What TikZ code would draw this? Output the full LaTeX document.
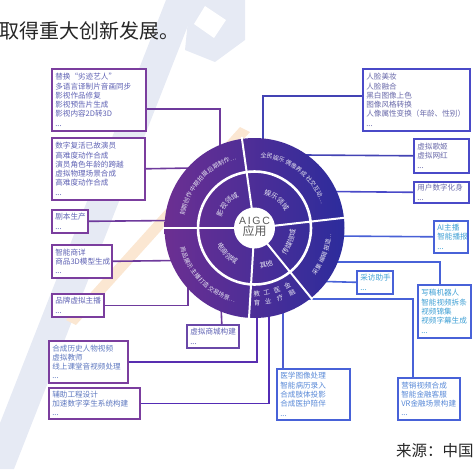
\documentclass[tikz,border=0pt]{standalone}
\usepackage{fontspec}
\setmainfont{Noto Sans CJK SC}
\newfontfamily\latinsans{Liberation Sans}
\usetikzlibrary{decorations.text,calc}
\definecolor{bPur}{HTML}{7B3E9E}
\definecolor{bPurB}{HTML}{6A48A8}
\definecolor{lPur}{HTML}{6E3A9C}
\definecolor{tPur}{HTML}{5F62B4}
\definecolor{tPurB}{HTML}{5E78C0}
\definecolor{bInd}{HTML}{4A4AC8}
\definecolor{tInd}{HTML}{6A6AAA}
\definecolor{bBlu}{HTML}{4862D8}
\definecolor{tBlu}{HTML}{5A8AD8}
\definecolor{tCya}{HTML}{3FA0D5}
\definecolor{ringL}{HTML}{6C2F92}
\definecolor{ringR}{HTML}{2C2C9C}
\definecolor{ringTxt}{HTML}{E6E5F2}
\definecolor{hubTxt}{HTML}{5A5A5A}
\definecolor{wmBlue}{HTML}{E6EAF4}
\definecolor{wmOrange}{HTML}{FBE7D2}
\begin{document}
\begin{tikzpicture}[x=1pt,y=-1pt,
  box/.style={draw, line width=1.6pt, fill=white, anchor=north west, inner xsep=3.5pt, inner ysep=0pt, align=left, font=\fontsize{7.6}{9.3}\selectfont},
  conn/.style={line width=1.6pt}
]
\useasboundingbox (0,0) rectangle (474,469);

% faint background watermark
\fill[wmBlue] (166,0) -- (198,0) -- (14,469) -- (-18,469) -- cycle;
\fill[wmBlue] (190,0) -- (245,0) -- (245,40) -- (215,62) -- (185,50) -- cycle;
\fill[white] (205,6) -- (226,20) -- (214,38) -- (194,24) -- cycle;
\fill[wmOrange] (66,320) -- (76,325) -- (250,132) -- (240,127) -- cycle;

% texts outside
\node[anchor=west, inner sep=0pt, font=\fontsize{20}{20}\selectfont, text=black!85] (title) at (-1,31) {取得重大创新发展。};
\node[anchor=west, inner sep=0pt, font=\fontsize{15.5}{16}\selectfont, text=black!85] (src) at (396,451) {来源：中国};

% boxes
\node[box, draw=bPur, text=tPur, text width=87pt, minimum height=62pt] (bA) at (51,68) {替换“劣迹艺人”\\多语言译制片音画同步\\影视作品修复\\影视预告片生成\\影视内容2D转3D\\...};
\node[box, draw=bPur, text=tPur, text width=86pt, minimum height=62pt] (bC) at (51,137) {数字复活已故演员\\高难度动作合成\\演员角色年龄的跨越\\虚拟物理场景合成\\高难度动作合成\\...};
\node[box, draw=bPur, text=tPur, text width=29pt, minimum height=23pt] (bD) at (51,209) {剧本生产\\...};
\node[box, draw=bPur, text=tPur, text width=53pt, minimum height=33pt] (bE) at (51,244) {智能商详\\商品3D模型生成\\...};
\node[box, draw=bPur, text=tPur, text width=45pt, minimum height=23pt] (bF) at (51,293) {品牌虚拟主播\\...};
\node[box, draw=bPurB, text=tPur, text width=45pt, minimum height=23pt] (bG) at (186,324) {虚拟商城构建\\...};
\node[box, draw=bPur, text=tPurB, text width=72pt, minimum height=42pt] (bH) at (48,340) {合成历史人物视频\\虚拟教师\\线上课堂音视频处理\\...};
\node[box, draw=bPur, text=tPurB, text width=84pt, minimum height=31pt] (bI) at (48,387) {辅助工程设计\\加速数字孪生系统构建\\...};
\node[box, draw=bBlu, text=tBlu, text width=66pt, minimum height=51pt] (bJ) at (276,368) {医学图像处理\\智能病历录入\\合成肢体投影\\合成医护陪伴\\...};
\node[box, draw=bBlu, text=tBlu, text width=55pt, minimum height=42pt] (bK) at (397,377) {营销视频合成\\智能金融客服\\VR金融场景构建\\...};
\node[box, draw=bBlu, text=tCya, text width=46pt, minimum height=53pt] (bL) at (417,284) {写稿机器人\\智能视频拆条\\视频锦集\\视频字幕生成\\...};
\node[box, draw=bBlu, text=tCya, text width=29pt, minimum height=23pt] (bM) at (356,270) {采访助手\\...};
\node[box, draw=bBlu, text=tCya, text width=27pt, minimum height=32pt] (bN) at (433,220) {AI主播\\智能播报\\...};
\node[box, draw=bInd, text=tInd, text width=48pt, minimum height=21pt] (bO) at (413,181) {用户数字化身\\...};
\node[box, draw=bInd, text=tInd, text width=48pt, minimum height=34pt] (bP) at (413,138) {虚拟歌姬\\虚拟网红\\...};
\node[box, draw=bInd, text=tInd, text width=100pt, minimum height=62pt] (bB) at (362,68) {人脸美妆\\人脸融合\\黑白图像上色\\图像风格转换\\人像属性变换（年龄、性别）\\...};

% ring anchor coordinates
\coordinate (rA) at (220,152);
\coordinate (rB) at (263,145);
\coordinate (rC) at (192,168);
\coordinate (rD) at (172,220.5);
\coordinate (rE) at (176,260.5);
\coordinate (rF) at (188,285);
\coordinate (rG) at (221,305);
\coordinate (rH) at (257,310);
\coordinate (rI) at (269,310);
\coordinate (rJ) at (283,310);
\coordinate (rK) at (305,299);
\coordinate (rL) at (335,262);
\coordinate (rM) at (325,281.5);
\coordinate (rN) at (335,236);
\coordinate (rO) at (330,191.5);
\coordinate (rP) at (305,155);

% connectors
\draw[conn, lPur] ([yshift=-9pt]bA.east) -| (rA);
\draw[conn, lPur] (bC.east) -- (rC);
\draw[conn, lPur] (bD.east) -- (rD);
\draw[conn, lPur] (bE.east) -- (rE);
\draw[conn, lPur] (bF.east) -| (rF);
\draw[conn, lPur] ([xshift=9pt]bG.north) -- (rG);
\draw[conn, lPur!80!blue] (bH.east) -| (rH);
\draw[conn, lPur!75!blue] (bI.east) -| (rI);
\draw[conn, bBlu!85!lPur] ([xshift=7pt]bJ.north west) -- (rJ);
\draw[conn, bBlu] ([xshift=16pt]bK.north west) |- (rK);
\draw[conn, bBlu] ([xshift=23pt]bL.north west) |- (rL);
\draw[conn, bBlu] (bM.west) -- (rM);
\draw[conn, bBlu!90!bInd] (bN.west) -- (rN);
\draw[conn, bInd] (bO.west) -- (rO);
\draw[conn, bInd!90!black] (bP.west) -- (rP);
\draw[conn, bInd!90!black] ([yshift=4pt]bB.west) -| (rB);

% ring
\begin{scope}[shift={(254.5,228)}, y=1pt]
  \shade[left color=ringL, right color=ringR] (0,0) circle[radius=90];
  \fill[white] (0,0) circle[radius=20.5];
  \draw[white, line width=2.6pt] (0,0) circle[radius=56.5];
  \foreach \a in {98,180,6.5,-51,-93.5} \draw[white, line width=2pt] (\a:19) -- (\a:92);
  \node[align=center, text=hubTxt, inner sep=0pt] (hub) at (0,1) {{\latinsans\fontsize{10.5}{12}\selectfont A\,I\,G\,C}\\[-1pt]{\fontsize{12}{13}\selectfont 应用}};
  % inner domain labels
  \path[decorate, decoration={text along path, text align=center, text color=ringTxt, text={|\fontsize{7}{7}\selectfont|影视领域}}] (169:35) arc[start angle=169, end angle=109, radius=35];
  \path[decorate, decoration={text along path, text align=center, text color=ringTxt, text={|\fontsize{7}{7}\selectfont|娱乐领域}}] (82:35) arc[start angle=82, end angle=22, radius=35];
  \path[decorate, decoration={text along path, text align=center, text color=ringTxt, text={|\fontsize{7}{7}\selectfont|传媒领域}}] (-52:41) arc[start angle=-52, end angle=8, radius=41];
  \path[decorate, decoration={text along path, text align=center, text color=ringTxt, text={|\fontsize{7}{7}\selectfont|其他}}] (-96:41) arc[start angle=-96, end angle=-48, radius=41];
  \path[decorate, decoration={text along path, text align=center, text color=ringTxt, text={|\fontsize{7}{7}\selectfont|电商领域}}] (193:41) arc[start angle=193, end angle=253, radius=41];
  % outer labels
  \path[decorate, decoration={text along path, text align=center, text color=ringTxt, text={|\fontsize{6}{6}\selectfont|前期创作 中期拍摄 后期制作…}}] (178:71) arc[start angle=178, end angle=97, radius=71];
  \path[decorate, decoration={text along path, text align=center, text color=ringTxt, text={|\fontsize{6}{6}\selectfont|全民娱乐 偶像养成 社交互动…}}] (95:71) arc[start angle=95, end angle=10, radius=71];
  \path[decorate, decoration={text along path, text align=center, text color=ringTxt, text={|\fontsize{6}{6}\selectfont|采集 编辑 报道…}}] (-48:77) arc[start angle=-48, end angle=6, radius=77];
  \path[decorate, decoration={text along path, text align=center, text color=ringTxt, text={|\fontsize{6}{6}\selectfont|商品展示 主播打造 交易场景…}}] (182:77) arc[start angle=182, end angle=268, radius=77];
  \foreach \c/\d/\a [count=\i] in {教/育/-88, 工/业/-79.5, 医/疗/-70, 金/融/-60}{
    \node[text=ringTxt, inner sep=0pt, font=\fontsize{6.5}{6.5}\selectfont, rotate=\a+90] (w\i a) at (\a:66) {\c};
    \node[text=ringTxt, inner sep=0pt, font=\fontsize{6.5}{6.5}\selectfont, rotate=\a+90] (w\i b) at (\a:75) {\d};
  }
\end{scope}
\end{tikzpicture}
\end{document}
